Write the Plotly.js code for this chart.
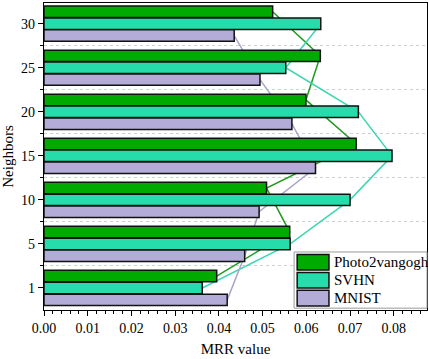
<!DOCTYPE html>
<html>
<head>
<meta charset="utf-8">
<script src="https://cdn.plot.ly/plotly-3.0.1.min.js"></script>
<style>html,body{margin:0;padding:0;background:#fff;}#chart{width:429px;height:359px;}</style>
</head>
<body>
<div id="chart"></div>
<script>
var neighbors = ['1', '5', '10', '15', '20', '25', '30'];
var seriesNames = ['Photo2vangogh', 'SVHN', 'MNIST'];
var photo2vangogh = [0.0395, 0.0562, 0.0509, 0.0714, 0.0599, 0.0632, 0.0523];
var svhn = [0.0362, 0.0563, 0.0700, 0.0796, 0.0719, 0.0553, 0.0633];
var mnist = [0.0419, 0.0459, 0.0492, 0.0621, 0.0567, 0.0494, 0.0435];

var barColors = ['#00aa00', '#26dcaa', '#b4acd8'];
var lineColors = ['#1f9a1f', '#3ed6b0', '#aca4cc'];
var offsets = [0.14, -0.13, -0.40];
var barWidth = 0.26;
var FONT = 'Liberation Serif';

var values = [photo2vangogh, svhn, mnist];
var idx = neighbors.map(function (_, i) { return i; });

var traces = [];
values.forEach(function (v, s) {
  traces.push({
    type: 'scatter', mode: 'lines', x: v,
    y: idx.map(function (i) { return i + offsets[s] + barWidth / 2; }),
    line: {color: lineColors[s], width: 1.5},
    xaxis: 'x', yaxis: 'y', showlegend: false, hoverinfo: 'skip'
  });
});
values.forEach(function (v, s) {
  traces.push({
    type: 'bar', orientation: 'h', x: v, y: idx,
    width: barWidth, offset: offsets[s],
    name: seriesNames[s],
    marker: {color: barColors[s], line: {color: '#111', width: 1.5}},
    xaxis: 'x', yaxis: 'y2', showlegend: false
  });
});

var yRange = [-0.5, 6.47];
var shapes = [], annotations = [];
var lx0 = 0.653, lx1 = 1.0, ly0 = 0.006, ly1 = 0.189;
shapes.push({type: 'rect', xref: 'paper', yref: 'paper', x0: lx0, x1: lx1, y0: ly0, y1: ly1,
  line: {color: '#999', width: 1}, fillcolor: 'rgba(255,255,255,0.9)', layer: 'above'});
seriesNames.forEach(function (n, s) {
  var top = 0.181 - s * 0.0585;
  shapes.push({type: 'rect', xref: 'paper', yref: 'paper', x0: 0.661, x1: 0.744,
    y0: top - 0.051, y1: top, fillcolor: barColors[s], line: {color: '#111', width: 1.5}, layer: 'above'});
  annotations.push({xref: 'paper', yref: 'paper', x: 0.751, y: top - 0.0255, xanchor: 'left', yanchor: 'middle',
    text: n, showarrow: false, font: {family: FONT, size: 15, color: '#000'}});
});

var layout = {
  width: 429, height: 359,
  margin: {l: 44, r: 2, t: 3, b: 49},
  paper_bgcolor: '#fff', plot_bgcolor: '#fff',
  font: {family: FONT, size: 14, color: '#000'},
  barmode: 'overlay', showlegend: false,
  xaxis: {
    range: [0, 0.0876], tickvals: [0, 0.01, 0.02, 0.03, 0.04, 0.05, 0.06, 0.07, 0.08],
    tickformat: '.2f', ticks: 'outside', ticklen: 5, tickwidth: 1, tickcolor: '#000',
    minor: {dtick: 0.002, tick0: 0, ticks: 'outside', ticklen: 3, tickcolor: '#000', showgrid: false},
    showline: true, linecolor: '#000', linewidth: 1.3, mirror: true, showgrid: false, zeroline: false,
    title: {text: 'MRR value', font: {family: FONT, size: 15, color: '#000'}, standoff: 8},
    tickfont: {family: FONT, size: 14, color: '#000'}
  },
  yaxis: {
    range: yRange, tickvals: idx, ticktext: neighbors,
    ticks: 'outside', ticklen: 5, tickwidth: 1, tickcolor: '#000',
    minor: {tickvals: idx.slice(0, -1).map(function (i) { return i + 0.5; }).concat([6.5]),
      ticks: 'outside', ticklen: 3, tickcolor: '#000', showgrid: true, gridcolor: '#d0d0d0', griddash: 'dot', gridwidth: 1},
    showline: true, linecolor: '#000', linewidth: 1.3, mirror: true, showgrid: false, zeroline: false,
    title: {text: 'Neighbors', font: {family: FONT, size: 15, color: '#000'}, standoff: 6},
    tickfont: {family: FONT, size: 14, color: '#000'}
  },
  yaxis2: {range: yRange, overlaying: 'y', visible: false, showgrid: false, zeroline: false},
  shapes: shapes,
  annotations: annotations
};

Plotly.newPlot('chart', traces, layout, {displayModeBar: false, staticPlot: true});
</script>
</body>
</html>
